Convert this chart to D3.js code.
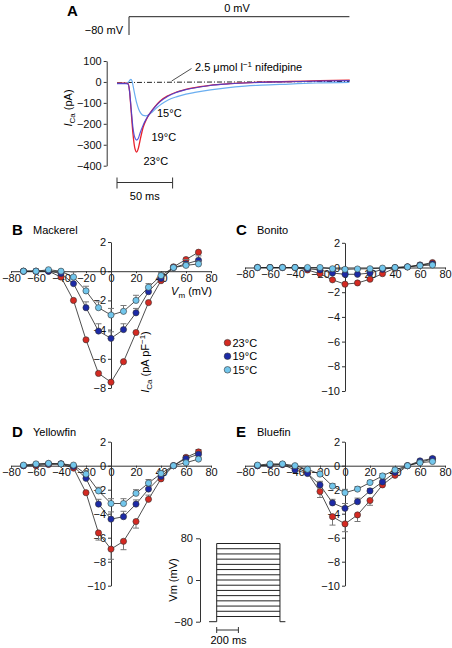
<!DOCTYPE html>
<html><head><meta charset="utf-8">
<script src="https://cdn.jsdelivr.net/npm/d3@7"></script>
<style>
body{margin:0;background:#fff;}
svg{display:block;font-family:"Liberation Sans",Arial,Helvetica,sans-serif;}
</style></head><body>
<svg id="fig" width="452" height="648"></svg>
<script>
// ---------- DATA ----------
const voltages = [-70,-60,-50,-40,-30,-20,-10,0,10,20,30,40,50,60,70];
const xTicks = [-80,-60,-40,-20,0,20,40,60,80];
const tempLabels = ["23°C","19°C","15°C"];
const tempColors = ["#d42a22","#1c2aa6","#72c6ec"];

// Mackerel
const mackerel23 = [0,0,0,-0.4,-2.0,-4.7,-7.0,-7.6,-6.2,-4.2,-2.15,-0.65,0.3,0.8,1.3];
const mackerel19 = [0,0,0,-0.15,-0.85,-2.5,-4.1,-4.6,-4.0,-2.85,-1.4,-0.5,0.25,0.5,0.75];
const mackerel15 = [0,0,0.1,0,-0.4,-1.35,-2.5,-3.0,-2.75,-2.0,-1.1,-0.3,0.25,0.4,0.5];
const mackerelErr23 = [0,0,0,0,0,0,0,0,0,0,0,0,0,0,0];
const mackerelErr19 = [0,0,0,0,0,0.4,0.5,0.45,0.4,0.3,0.2,0.15,0.1,0.3,0.3];
const mackerelErr15 = [0,0,0,0,0.35,0.32,0.4,0.45,0.4,0.35,0.25,0.2,0.1,0.2,0.2];
// Bonito
const bonito23 = [0,0,0,0,-0.2,-0.5,-1.0,-1.35,-1.25,-0.95,-0.5,-0.05,0.05,0.2,0.4];
const bonito19 = [0,0,0,0,-0.1,-0.2,-0.45,-0.55,-0.55,-0.45,-0.15,0,0.05,0.2,0.3];
const bonito15 = [0,0,0,0,0,0,-0.1,-0.15,-0.12,-0.1,-0.05,0,0.05,0.15,0.2];
const bonitoErr = [0,0,0,0,0,0,0,0,0,0,0,0,0,0,0];
// Yellowfin
const yellowfin23 = [0,0,0.1,0.15,-0.2,-2.25,-5.6,-6.95,-6.3,-4.65,-2.8,-1.1,0,0.7,1.15];
const yellowfin19 = [0,0.1,0.15,0.15,-0.05,-1.05,-3.2,-4.45,-4.25,-3.2,-1.95,-0.9,0,0.6,0.95];
const yellowfin15 = [0.05,0.15,0.2,0.15,0.05,-0.7,-2.1,-3.15,-3.15,-2.3,-1.45,-0.65,0,0.25,0.55];
const yellowfinErr23 = [0,0,0,0,0,0,-0.6,-0.85,-0.7,-0.55,0.35,0,0,0.15,0.2];
const yellowfinErr19 = [0,0,0,0,0,0.2,0.4,0.6,0.45,0.35,0.3,0.2,0,0.15,0.2];
const yellowfinErr15 = [0,0,0,0,0,0.3,0.3,0.4,0.4,0.3,0.3,0.2,0,0.1,0.15];
// Bluefin
const bluefin23 = [0,0.05,0.1,-0.1,-0.6,-2.15,-4.25,-4.85,-4.1,-2.9,-1.6,-0.8,0,0.3,0.55];
const bluefin19 = [0,0.05,0.1,-0.35,-0.65,-1.6,-3.1,-3.55,-3.0,-2.1,-1.35,-0.55,0,0.4,0.6];
const bluefin15 = [0.05,0.15,0.15,0,-0.3,-0.7,-1.7,-2.25,-1.95,-1.4,-0.85,-0.35,0,0.25,0.35];
const bluefinErr23 = [0,0,0,0,0,-0.5,-0.7,-0.65,-0.55,-0.4,0.2,0.2,0,0,0];
const bluefinErr19 = [0,0,0,0,0.2,0.3,0.3,0.4,0.3,0.2,0.3,0.3,0,0.1,0.15];
const bluefinErr15 = [0,0,0,0,0.2,0.25,0.2,0.28,0.2,0.15,0.2,0.15,0,0.1,0.1];

// Panel A current traces (time ms, current pA)
const traceT = [0,8,9.9,11.2,12.6,14.4,16.2,17.7,19.3,20.7,23.6,26.5,29.6,34.1,38.6,45.8,53.6,61,68.3,83.6,98.6,115,128.5,155.4,182.4,209.3];
const trace23 = [-6,-6,-8,-40,-130,-250,-320,-335,-315,-280,-215,-178,-150,-118,-92,-66,-48,-37,-28,-16,-9,-4,-1,2,6,9];
const trace19 = [-8,-8,-10,-40,-120,-220,-268,-278,-268,-245,-205,-175,-150,-120,-95,-68,-50,-38,-30,-17,-10,-5,-2,1,4,6];
const trace15T = [0,8,10,11.5,12.5,13.5,14.5,16,17.7,19.5,21.5,23.5,26,29,32,36,40,46,54,62,70,84,98.6,115,130,155,180,209];
const trace15 = [-5,-5,-2,8,12,5,-20,-60,-100,-130,-150,-160,-162,-155,-142,-122,-105,-86,-70,-58,-50,-38,-28,-20,-15,-10,-5,-2];
const nifT = [0,60,120,209];
const nifI = [-3,-1,0,2];
const traceTicks = [100,0,-100,-200,-300,-400];
const stepTimeA = 10.8, endTimeA = 209;
const holdA = -80, testA = 0;

// Inset voltage protocol
const protoSteps = [-70,-60,-50,-40,-30,-20,-10,0,10,20,30,40,50,60,70];
const protoHold = -80;
const protoTimes = [-70,0,583,633];
const protoTicks = [80,0,-80];

// ---------- DRAW ----------
const svg = d3.select("#fig");
const FS = 11;

function styleAxis(g){
  g.selectAll(".domain").attr("stroke","#333").attr("stroke-width",1);
  g.selectAll(".tick line").attr("stroke","#333");
  g.selectAll(".tick text").attr("font-size",FS).attr("fill","#111")
   .attr("font-family",'"Liberation Sans",Arial,sans-serif');
}

// ----- Panel A -----
svg.append("text").attr("x",67).attr("y",16).attr("font-size",15).attr("font-weight","bold").text("A");
const xA = d3.scaleLinear().domain([0,50]).range([117,172.6]);
const yA = d3.scaleLinear().domain([100,-400]).range([61,165.7]);
const vA = d3.scaleLinear().domain([-80,0]).range([35,16.7]);

svg.append("path").attr("fill","none").attr("stroke","#222").attr("stroke-width",1)
  .attr("d",d3.line()([[xA(stepTimeA),vA(holdA)],[xA(stepTimeA),vA(testA)],[xA(endTimeA),vA(testA)]]));
svg.append("text").attr("x",123).attr("y",34).attr("text-anchor","end").attr("font-size",FS).text("−80 mV");
svg.append("text").attr("x",237).attr("y",12).attr("text-anchor","middle").attr("font-size",FS).text("0 mV");

const gAy = svg.append("g").attr("transform","translate(106.7,0)")
  .call(d3.axisLeft(yA).tickValues(traceTicks).tickSize(3).tickPadding(2).tickSizeOuter(0));
styleAxis(gAy);
const aLab = svg.append("text").attr("transform","translate(72,108) rotate(-90)")
  .attr("text-anchor","middle").attr("font-size",FS);
aLab.append("tspan").attr("font-style","italic").text("I");
aLab.append("tspan").attr("font-size",8).attr("dy",3).text("Ca");
aLab.append("tspan").attr("dy",-3).text(" (pA)");

const lineA = d3.line().curve(d3.curveMonotoneX);
svg.append("path").attr("fill","none").attr("stroke","#222").attr("stroke-width",1)
  .attr("stroke-dasharray","5,2,1,2")
  .attr("d",lineA(nifT.map((t,i)=>[xA(t),yA(nifI[i])])));
svg.append("path").attr("fill","none").attr("stroke","#6aaef0").attr("stroke-width",1.2)
  .attr("d",lineA(trace15T.map((t,i)=>[xA(t),yA(trace15[i])])));
svg.append("path").attr("fill","none").attr("stroke","#e8202a").attr("stroke-width",1.3)
  .attr("d",lineA(traceT.map((t,i)=>[xA(t),yA(trace23[i])])));
svg.append("path").attr("fill","none").attr("stroke","#4040d8").attr("stroke-width",1.2).attr("opacity",0.85)
  .attr("d",lineA(traceT.map((t,i)=>[xA(t),yA(trace19[i])])));

svg.append("line").attr("x1",171.7).attr("y1",81).attr("x2",191.5).attr("y2",68.5).attr("stroke","#222").attr("stroke-width",0.8);
const nifLab = svg.append("text").attr("x",195).attr("y",71).attr("font-size",FS);
nifLab.append("tspan").text("2.5 μmol l");
nifLab.append("tspan").attr("font-size",8).attr("dy",-4).text("−1");
nifLab.append("tspan").attr("dy",4).text(" nifedipine");

svg.append("text").attr("x",157).attr("y",117).attr("font-size",FS).text("15°C");
svg.append("text").attr("x",151.5).attr("y",141).attr("font-size",FS).text("19°C");
svg.append("text").attr("x",143.5).attr("y",165).attr("font-size",FS).text("23°C");

// scale bar 50 ms
const sbY = 182.5;
svg.append("path").attr("fill","none").attr("stroke","#333").attr("stroke-width",1)
  .attr("d",`M${xA(0)},${sbY-5}V${sbY+6}M${xA(0)},${sbY}H${xA(50)}M${xA(50)},${sbY-5}V${sbY+6}`);
svg.append("text").attr("x",(xA(0)+xA(50))/2).attr("y",200).attr("text-anchor","middle").attr("font-size",FS).text("50 ms");

// ----- IV panels -----
function drawIV(cfg){
  const x = d3.scaleLinear().domain([-80,80]).range(cfg.xr);
  const y = d3.scaleLinear().domain(cfg.yd).range(cfg.yr);
  svg.append("text").attr("x",cfg.lx).attr("y",cfg.ly).attr("font-size",15).attr("font-weight","bold").text(cfg.letter);
  svg.append("text").attr("x",cfg.lx+21).attr("y",cfg.ly-1).attr("font-size",FS).text(cfg.name);
  const gx = svg.append("g").attr("transform",`translate(0,${y(0)})`)
    .call(d3.axisBottom(x).tickValues(xTicks).tickSize(2).tickPadding(1).tickSizeOuter(0));
  styleAxis(gx);
  const gy = svg.append("g").attr("transform",`translate(${x(0)},0)`)
    .call(d3.axisLeft(y).tickValues(cfg.yTicks).tickSize(3).tickPadding(2).tickSizeOuter(0));
  styleAxis(gy);
  const line = d3.line();
  cfg.series.forEach((s,k)=>{
    svg.append("path").attr("fill","none").attr("stroke","#222").attr("stroke-width",0.8)
      .attr("d",line(voltages.map((v,i)=>[x(v),y(s[i])])));
  });
  cfg.series.forEach((s,k)=>{
    const err = cfg.errs[k];
    const eg = svg.append("g").attr("stroke","#777").attr("stroke-width",1);
    voltages.forEach((v,i)=>{
      if(!err[i]) return;
      const y1 = y(s[i]), y2 = y(s[i]+err[i]);
      eg.append("line").attr("x1",x(v)).attr("x2",x(v)).attr("y1",y1).attr("y2",y2);
      eg.append("line").attr("x1",x(v)-3).attr("x2",x(v)+3).attr("y1",y2).attr("y2",y2);
    });
    svg.append("g").selectAll("circle").data(voltages).join("circle")
      .attr("cx",v=>x(v)).attr("cy",(v,i)=>y(s[i])).attr("r",3.1)
      .attr("fill",tempColors[k]).attr("stroke","#333").attr("stroke-width",0.6);
  });
  return {x,y};
}

const yTicks8 = [2,0,-2,-4,-6,-8];
const yTicks10 = [2,0,-2,-4,-6,-8,-10];
const B = drawIV({letter:"B",name:"Mackerel",lx:12,ly:235,xr:[11,211],yd:[2,-8],yr:[242,388],yTicks:yTicks8,
  series:[mackerel23,mackerel19,mackerel15],errs:[mackerelErr23,mackerelErr19,mackerelErr15]});
drawIV({letter:"C",name:"Bonito",lx:236,ly:235,xr:[245,445],yd:[2,-10],yr:[242.8,391],yTicks:yTicks10,
  series:[bonito23,bonito19,bonito15],errs:[bonitoErr,bonitoErr,bonitoErr]});
drawIV({letter:"D",name:"Yellowfin",lx:12,ly:437,xr:[11,211],yd:[2,-10],yr:[441.7,585.7],yTicks:yTicks10,
  series:[yellowfin23,yellowfin19,yellowfin15],errs:[yellowfinErr23,yellowfinErr19,yellowfinErr15]});
drawIV({letter:"E",name:"Bluefin",lx:236,ly:437,xr:[245,445],yd:[2,-10],yr:[441.7,585.7],yTicks:yTicks10,
  series:[bluefin23,bluefin19,bluefin15],errs:[bluefinErr23,bluefinErr19,bluefinErr15]});

// axis titles in B
const vmLab = svg.append("text").attr("x",212).attr("y",295).attr("text-anchor","end").attr("font-size",FS);
vmLab.append("tspan").attr("font-style","italic").text("V");
vmLab.append("tspan").attr("font-size",8).attr("dy",3).text("m");
vmLab.append("tspan").attr("dy",-3).text(" (mV)");
const icLab = svg.append("text").attr("transform","translate(149,362) rotate(-90)").attr("text-anchor","middle").attr("font-size",FS);
icLab.append("tspan").attr("font-style","italic").text("I");
icLab.append("tspan").attr("font-size",8).attr("dy",3).text("Ca");
icLab.append("tspan").attr("dy",-3).text(" (pA pF");
icLab.append("tspan").attr("font-size",8).attr("dy",-4).text("−1");
icLab.append("tspan").attr("dy",4).text(")");

// legend
const legY = [342.7,356.2,369.8];
tempLabels.forEach((t,k)=>{
  svg.append("circle").attr("cx",227.5).attr("cy",legY[k]).attr("r",3.3)
    .attr("fill",tempColors[k]).attr("stroke","#333").attr("stroke-width",0.6);
  svg.append("text").attr("x",232.5).attr("y",legY[k]+4).attr("font-size",FS).text(t);
});

// ----- Inset protocol -----
const yP = d3.scaleLinear().domain([-80,80]).range([621.7,538.3]);
const xP = d3.scaleLinear().domain([0,200]).range([216.7,238.4]);
const gP = svg.append("g").attr("transform","translate(200,0)")
  .call(d3.axisLeft(yP).tickValues(protoTicks).tickSize(4).tickPadding(3).tickSizeOuter(0));
styleAxis(gP);
const pLab = svg.append("text").attr("transform","translate(177,580) rotate(-90)").attr("text-anchor","middle").attr("font-size",FS).text("Vm (mV)");
const pg = svg.append("g").attr("fill","none").attr("stroke","#222").attr("stroke-width",1);
pg.append("path").attr("d",d3.line()([[xP(protoTimes[0]),yP(protoHold)],[xP(protoTimes[1]),yP(protoHold)],[xP(protoTimes[1]),yP(d3.max(protoSteps))]]));
pg.append("path").attr("d",d3.line()([[xP(protoTimes[2]),yP(d3.max(protoSteps))],[xP(protoTimes[2]),yP(protoHold)],[xP(protoTimes[3]),yP(protoHold)]]));
protoSteps.forEach(v=>{
  pg.append("line").attr("x1",xP(protoTimes[1])).attr("x2",xP(protoTimes[2])).attr("y1",yP(v)).attr("y2",yP(v));
});
const sb2 = 630;
svg.append("path").attr("fill","none").attr("stroke","#333").attr("stroke-width",1)
  .attr("d",`M${xP(0)},${sb2-3}V${sb2+3}M${xP(0)},${sb2}H${xP(200)}M${xP(200)},${sb2-3}V${sb2+3}`);
svg.append("text").attr("x",(xP(0)+xP(200))/2+1).attr("y",644).attr("text-anchor","middle").attr("font-size",FS).text("200 ms");
</script>
</body></html>
